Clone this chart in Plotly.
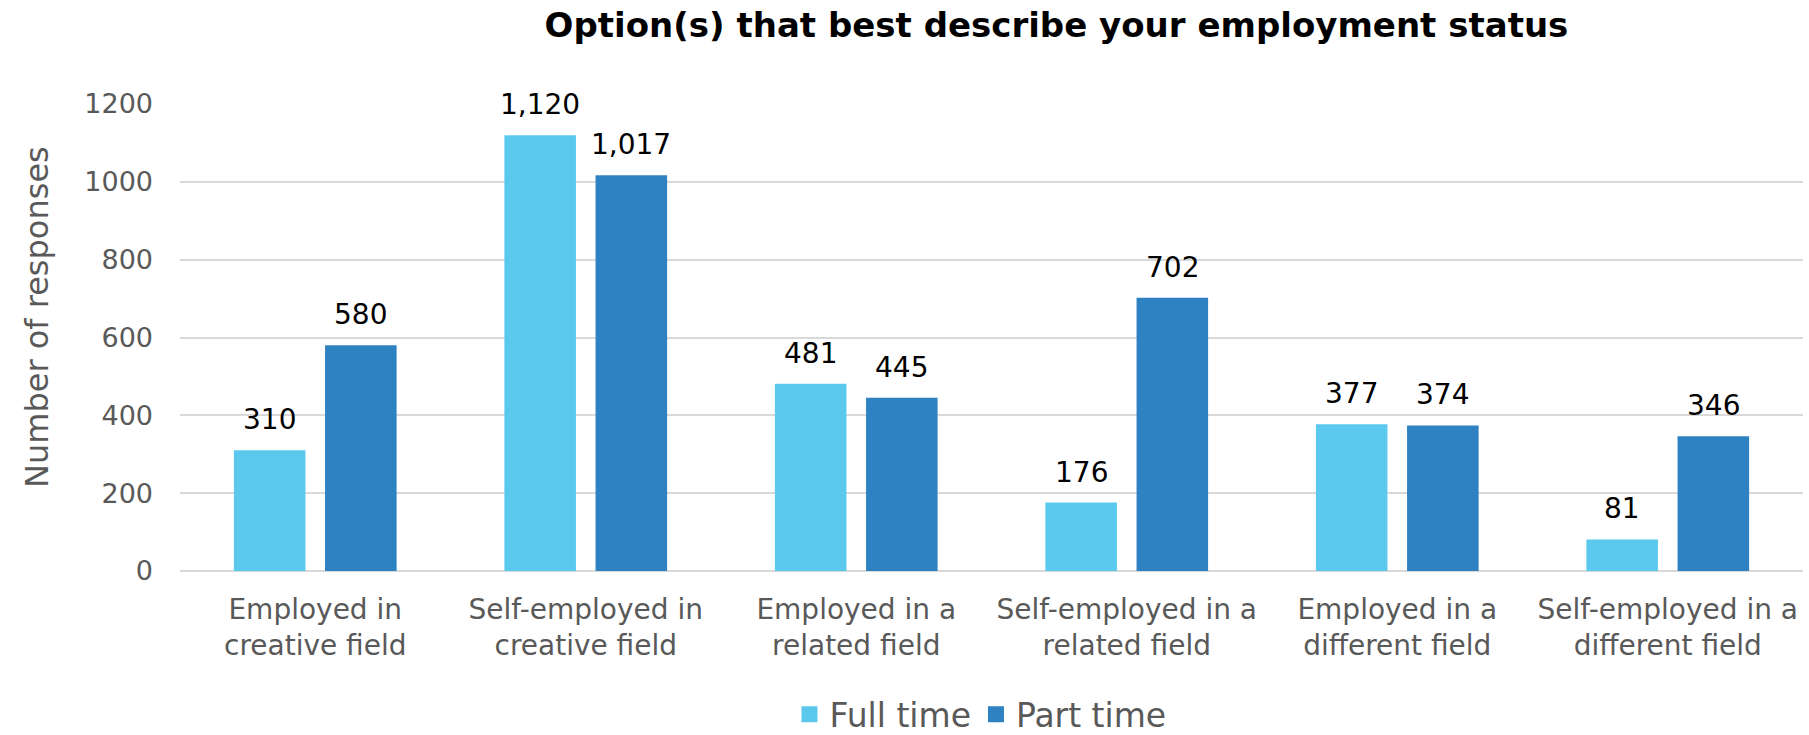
import plotly.graph_objects as go

# Survey categories (two-line axis labels)
categories = [
    "Employed in<br>creative field",
    "Self-employed in<br>creative field",
    "Employed in a<br>related field",
    "Self-employed in a<br>related field",
    "Employed in a<br>different field",
    "Self-employed in a<br>different field",
]
full_time = [310, 1120, 481, 176, 377, 81]
part_time = [580, 1017, 445, 702, 374, 346]
y_ticks = [0, 200, 400, 600, 800, 1000, 1200]

FONT = "DejaVu Sans"
GREY = "#595959"
SERIES = [
    ("Full time", full_time, "#5BC9EE", -1),
    ("Part time", part_time, "#2E82C2", 1),
]

W, H = 1809, 735
M_L, M_R, M_T, M_B = 180, 6, 104, 164
plot_w = W - M_L - M_R
plot_h = H - M_T - M_B
BARGAP = 0.326

fig = go.Figure()
for name, vals, color, _ in SERIES:
    fig.add_trace(go.Bar(
        name=name,
        x=categories,
        y=vals,
        marker=dict(color=color, line=dict(width=0)),
        showlegend=False,
    ))

# legend entries with larger square swatches
for name, vals, color, _ in SERIES:
    fig.add_trace(go.Scatter(
        name=name,
        x=[None],
        y=[None],
        mode="markers",
        marker=dict(symbol="square", size=16, color=color),
        showlegend=True,
    ))

# value labels above each bar, offset to the centre of its group slot
slot_half = plot_w / len(categories) * (1 - BARGAP) / 4
for name, vals, color, side in SERIES:
    for cat, v in zip(categories, vals):
        fig.add_annotation(
            x=cat, y=v, xref="x", yref="y",
            text=f"{v:,}",
            showarrow=False,
            xanchor="center", yanchor="bottom",
            xshift=side * slot_half,
            yshift=12,
            font=dict(family=FONT, size=28, color="#000000"),
        )

# rotated axis title, placed in the left margin
fig.add_annotation(
    text="Number of responses",
    textangle=-90,
    x=(37 - M_L) / plot_w, xref="paper", xanchor="center",
    y=1 - (317 - M_T) / plot_h, yref="paper", yanchor="middle",
    showarrow=False,
    font=dict(family=FONT, size=32, color=GREY),
)

fig.update_layout(
    width=W,
    height=H,
    margin=dict(l=M_L, r=M_R, t=M_T, b=M_B, autoexpand=False),
    paper_bgcolor="white",
    plot_bgcolor="white",
    barmode="group",
    bargap=BARGAP,
    bargroupgap=0.215,
    font=dict(family=FONT, color=GREY),
    title=dict(
        text="<b>Option(s) that best describe your employment status</b>",
        font=dict(family=FONT, size=34, color="#000000"),
        x=0.584, xref="container", xanchor="center",
        y=0.966, yref="container", yanchor="middle",
    ),
    legend=dict(
        orientation="h",
        x=0.542, xref="container", xanchor="center",
        y=0.028, yref="container", yanchor="middle",
        font=dict(family=FONT, size=33, color=GREY),
        itemsizing="trace",
        traceorder="normal",
    ),
    showlegend=True,
)

fig.update_xaxes(
    showgrid=False,
    showline=False,
    zeroline=False,
    tickfont=dict(family=FONT, size=28, color=GREY),
    ticklabelstandoff=19,
    tickangle=0,
    automargin=False,
)

fig.update_yaxes(
    range=[0, 1200],
    tickvals=y_ticks,
    ticktext=[str(v) for v in y_ticks],
    showgrid=True,
    gridcolor="#D9D9D9",
    gridwidth=1.5,
    zeroline=True,
    zerolinecolor="#D9D9D9",
    zerolinewidth=2,
    showline=False,
    tickfont=dict(family=FONT, size=27, color=GREY),
    ticklabelstandoff=26,
    automargin=False,
)

fig.write_html("out.html")
